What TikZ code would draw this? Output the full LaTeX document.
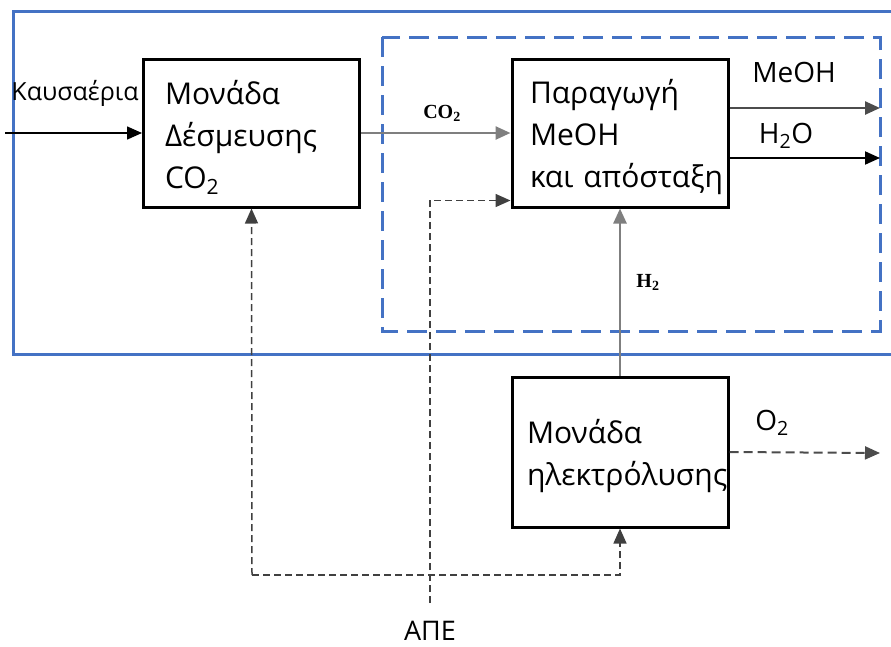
\documentclass[tikz,border=0pt]{standalone}
\usepackage{fontspec}
\setmainfont{Open Sans}
\newfontfamily\chemfont{Liberation Serif}
\usetikzlibrary{arrows.meta,positioning}

\definecolor{frameblue}{HTML}{4472C4}
\definecolor{flowgray}{HTML}{7F7F7F}

\begin{document}
\begin{tikzpicture}[x=1pt,y=-1pt,node distance=2cm,on grid,
   >={Triangle[length=15pt,width=13pt]},
   unit/.style={draw,line width=3pt,minimum width=216pt,minimum height=148pt,
     align=left,inner xsep=0pt,font=\fontsize{30}{42}\selectfont,
     execute at begin node={\rule{0pt}{33pt}}},
   stream/.style={line width=2.5pt,draw=flowgray},
   feed/.style={line width=1.5pt,draw=black!75,dash pattern=on 7pt off 4pt},
   tag/.style={anchor=base,font=\fontsize{28}{32}\selectfont},
   chem/.style={anchor=base,font=\chemfont\bfseries\fontsize{20}{22}\selectfont}]
   \useasboundingbox (0,0) rectangle (891,646);

   % frames
   \draw[frameblue,line width=3pt] (891,11) -| (13,354) -- (891,354);
   \draw[frameblue,line width=3pt,dash pattern=on 20pt off 9pt] (382,37) rectangle (880,331);

   % units
   \node[unit,text width=173pt] (capture) at (251.5,133) {Μονάδα\\Δέσμευσης\\CO\textsubscript{2}};
   \node[unit,text width=180pt,right=368.5pt of capture] (synth) {Παραγωγή\\MeOH\\και~απόσταξη};
   \node[unit,text width=186pt,minimum height=150pt,below=319pt of synth] (elec) {Μονάδα\\ηλεκτρόλυσης};

   % free ends
   \coordinate (fluein) at (5,133);
   \coordinate (meoh) at (880,108);
   \coordinate (water) at (880,158);
   \coordinate (oxy) at (880,453);
   \coordinate (loop) at (252,575);

   % labels
   \node[tag,font=\fontsize{25}{30}\selectfont] (fluelbl) at (75,100) {Καυσαέρια};
   \node[chem] (co2lbl) at (442,118) {CO\textsubscript{2}};
   \node[tag] (meohlbl) at (794,82) {MeOH};
   \node[tag] (waterlbl) at (786,143) {H\textsubscript{2}O};
   \node[chem] (h2lbl) at (648,287) {H\textsubscript{2}};
   \node[tag] (oxylbl) at (772,430) {O\textsubscript{2}};
   \node[tag,font=\fontsize{27}{30}\selectfont] (ape) at (430,640) {ΑΠΕ};

   % streams
   \draw[->,line width=1.5pt] (fluein) -- (capture.west);
   \draw[->,stream] (capture.east) -- (synth.west |- capture.east);
   \draw[->,stream,draw=black!70] (synth.east |- meoh) -- (meoh);
   \draw[->,line width=2pt] (synth.east |- water) -- (water);
   \draw[->,stream] (elec.north) -- (synth.south);
   \draw[->,line width=2pt,draw=black!70,dash pattern=on 9pt off 5pt] (elec.east) -- (oxy);

   % renewable supply
   \draw[->,feed] (ape.north) ++(0,-14) |- ([yshift=8pt]synth.south west);
   \draw[->,feed] (loop) -- (capture.south);
   \draw[->,feed] (loop) -| (elec.south);
\end{tikzpicture}
\end{document}
